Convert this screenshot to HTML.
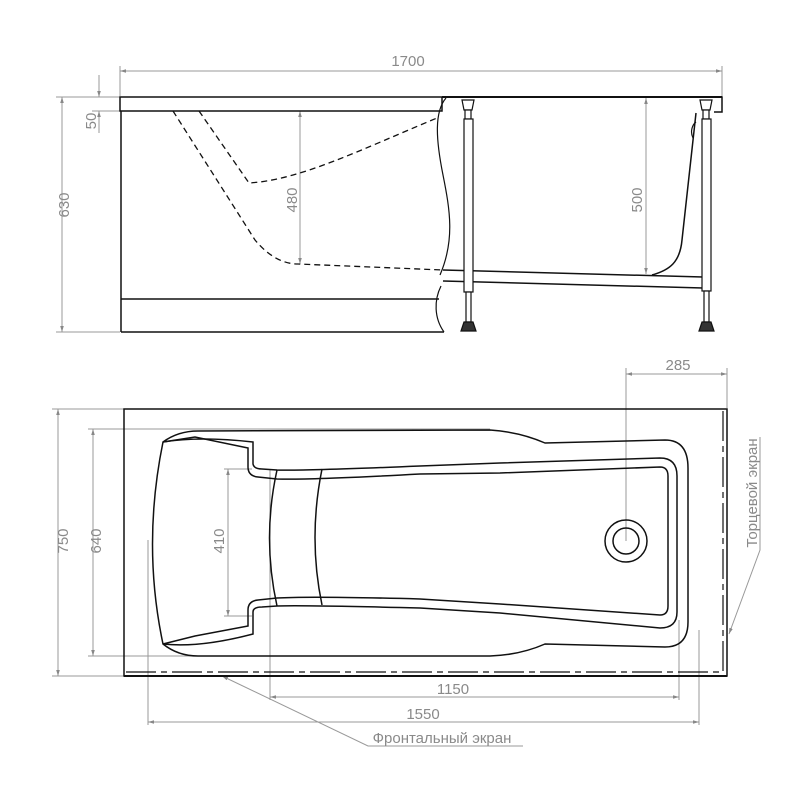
<!DOCTYPE html>
<html><head><meta charset="utf-8"><style>
html,body{margin:0;padding:0;background:#fff;}
svg{display:block;}
text{font-family:"Liberation Sans Narrow","Liberation Sans",sans-serif;fill:#8a8a8a;font-size:15px;}
</style></head><body>
<svg width="800" height="800" viewBox="0 0 800 800" xmlns="http://www.w3.org/2000/svg">
<defs>
<marker id="a" viewBox="0 0 10 10" refX="10" refY="5" markerWidth="6" markerHeight="6" orient="auto-start-reverse"><path d="M0,2 L10,5 L0,8 z" fill="#888"/></marker>
</defs>
<!-- ===== ELEVATION ===== -->
<g stroke="#999" stroke-width="1" fill="none">
  <line x1="120" y1="66" x2="120" y2="96"/>
  <line x1="722" y1="66" x2="722" y2="96"/>
  <line x1="120" y1="71" x2="722" y2="71" marker-start="url(#a)" marker-end="url(#a)"/>
  <line x1="56" y1="97" x2="120" y2="97"/>
  <line x1="56" y1="332" x2="120" y2="332"/>
  <line x1="62" y1="97" x2="62" y2="332" marker-start="url(#a)" marker-end="url(#a)"/>
  <line x1="92" y1="111" x2="120" y2="111"/>
  <line x1="99" y1="75" x2="99" y2="97" marker-end="url(#a)"/>
  <line x1="99" y1="111" x2="99" y2="133" marker-start="url(#a)"/>
  <line x1="300" y1="111" x2="300" y2="264" marker-start="url(#a)" marker-end="url(#a)"/>
  <line x1="646" y1="98" x2="646" y2="274" marker-start="url(#a)" marker-end="url(#a)"/>
</g>
<text x="408" y="66" text-anchor="middle">1700</text>
<text transform="translate(69,205) rotate(-90)" text-anchor="middle">630</text>
<text transform="translate(96,121) rotate(-90)" text-anchor="middle" font-size="14">50</text>
<text transform="translate(297,200) rotate(-90)" text-anchor="middle">480</text>
<text transform="translate(642,200) rotate(-90)" text-anchor="middle">500</text>

<g stroke="#111" stroke-width="1.5" fill="none">
  <rect x="120" y="97" width="322" height="14"/>
  <line x1="442" y1="97" x2="722" y2="97" stroke-width="2"/>
  <path d="M714,97 L722,97 L722,112 L714,112"/>
  <line x1="121" y1="111" x2="121" y2="332"/>
  <line x1="121" y1="332" x2="444" y2="332"/>
  <line x1="121" y1="299" x2="439" y2="299"/>
  <path d="M446,98 C434,112 436,140 443,175 C450,210 455,240 440,275" stroke-width="1.2"/>
  <path d="M441,286 C434,300 434,318 444,332" stroke-width="1.2"/>
  <line x1="443" y1="270" x2="703" y2="277"/>
  <line x1="443" y1="281" x2="703" y2="288"/>
  <path d="M652,275 C670,270 680,262 682,240 L696,113"/>
  <path d="M696,122 C692,125 690,132 693,138" stroke-width="1.2"/>
</g>
<g stroke="#111" stroke-width="1.3" fill="none" stroke-dasharray="6,4">
  <path d="M173,111 L255,240 C270,258 285,264 298,264 L443,270"/>
  <path d="M199,111 L249,183 C300,180 360,150 437,118"/>
</g>
<g stroke="#111" stroke-width="1.2" fill="#fff">
  <path d="M462,100 L474,100 L472,110 L464,110 Z"/>
  <rect x="465" y="110" width="6" height="9"/>
  <rect x="464" y="119" width="9" height="173"/>
  <rect x="466" y="292" width="5" height="30"/>
  <path d="M464,322 L473,322 L476,331 L461,331 Z" fill="#333"/>
  <path d="M700,100 L712,100 L710,110 L702,110 Z"/>
  <rect x="703" y="110" width="6" height="9"/>
  <rect x="702" y="119" width="9" height="172"/>
  <rect x="704" y="291" width="5" height="31"/>
  <path d="M702,322 L711,322 L714,331 L699,331 Z" fill="#333"/>
</g>

<!-- ===== PLAN ===== -->
<g stroke="#999" stroke-width="1" fill="none">
  <line x1="52" y1="409" x2="124" y2="409"/>
  <line x1="52" y1="676" x2="124" y2="676"/>
  <line x1="58" y1="409" x2="58" y2="676" marker-start="url(#a)" marker-end="url(#a)"/>
  <line x1="88" y1="429" x2="490" y2="429"/>
  <line x1="88" y1="656" x2="490" y2="656"/>
  <line x1="93" y1="429" x2="93" y2="656" marker-start="url(#a)" marker-end="url(#a)"/>
  <line x1="224" y1="469" x2="252" y2="469"/>
  <line x1="224" y1="616" x2="252" y2="616"/>
  <line x1="228" y1="469" x2="228" y2="616" marker-start="url(#a)" marker-end="url(#a)"/>
  <line x1="626" y1="368" x2="626" y2="541"/>
  <line x1="727" y1="368" x2="727" y2="408"/>
  <line x1="626" y1="374" x2="727" y2="374" marker-start="url(#a)" marker-end="url(#a)"/>
  <line x1="270" y1="470" x2="270" y2="700"/>
  <line x1="679" y1="620" x2="679" y2="700"/>
  <line x1="270" y1="697" x2="679" y2="697" marker-start="url(#a)" marker-end="url(#a)"/>
  <line x1="148" y1="540" x2="148" y2="725"/>
  <line x1="699" y1="630" x2="699" y2="725"/>
  <line x1="148" y1="722" x2="699" y2="722" marker-start="url(#a)" marker-end="url(#a)"/>
  <path d="M222,676 L368,746 L523,746" marker-start="url(#a)"/>
  <path d="M760,437 L760,550 L729,634" marker-end="url(#a)"/>
</g>
<text transform="translate(68,541) rotate(-90)" text-anchor="middle">750</text>
<text transform="translate(101,541) rotate(-90)" text-anchor="middle">640</text>
<text transform="translate(224,541) rotate(-90)" text-anchor="middle">410</text>
<text x="678" y="370" text-anchor="middle">285</text>
<text x="453" y="694" text-anchor="middle">1150</text>
<text x="423" y="719" text-anchor="middle">1550</text>
<text x="442" y="743" text-anchor="middle" font-size="14">Фронтальный экран</text>
<text transform="translate(757,493) rotate(-90)" text-anchor="middle" font-size="14">Торцевой экран</text>

<g stroke="#111" stroke-width="1.5" fill="none">
  <rect x="124" y="409" width="603" height="267"/>
  <line x1="124" y1="676" x2="727" y2="676" stroke-width="2"/>
</g>
<g stroke="#111" stroke-width="1.2" fill="none" stroke-dasharray="30,5,6,5">
  <line x1="126" y1="672" x2="723" y2="672"/>
  <line x1="723" y1="411" x2="723" y2="672"/>
</g>
<g stroke="#111" stroke-width="1.5" fill="none">
  <path d="M163,442 Q178,431 198,431 L490,430 Q520,432 545,443 L665,440 Q688,440 688,468 L688,622 Q688,647 665,647 L545,644 Q520,655 490,656 L198,656 Q178,656 163,644 Q142,545 163,442 Z"/>
  <path d="M163,442 Q200,436 253,442 L253,464 Q254,469 262,469 L277,470 Q300,471 420,466 L500,463 L660,458 Q677,458 677,476 L677,612 Q677,628 660,628 L500,613 L420,608 Q300,605 277,606 L262,607 Q253,607 253,612 L253,634 Q200,648 163,644"/>
  <path d="M163,442 L195,437 L248,448 L248,467 Q248,476 258,477 L277,479 Q310,480 420,474 L500,473 L660,467 Q668,467 668,476 L668,606 Q668,615 660,615 L500,604 L420,599 Q310,596 277,598 L258,600 Q248,601 248,610 L248,626 L195,636 L163,644"/>
  <path d="M277,470 Q262,538 277,606"/>
  <path d="M322,469 Q308,538 322,605"/>
  <circle cx="626" cy="541" r="21"/>
  <circle cx="626" cy="541" r="13"/>
</g>
</svg>
</body></html>
